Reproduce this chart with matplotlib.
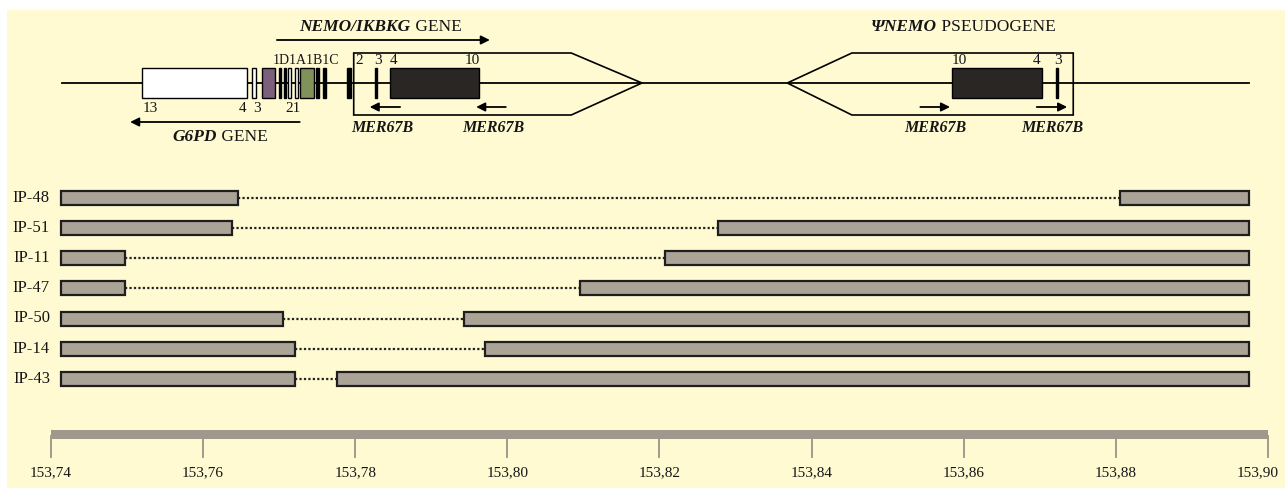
import matplotlib
matplotlib.use("Agg")
import matplotlib.pyplot as plt
from matplotlib.patches import Rectangle, Polygon

# genomic position, Mb (chrX)
scale_ticks = [153.74, 153.76, 153.78, 153.80, 153.82, 153.84, 153.86, 153.88, 153.90]
tick_labels = ["153,74", "153,76", "153,78", "153,80", "153,82", "153,84", "153,86", "153,88", "153,90"]

patients = ["IP-48", "IP-51", "IP-11", "IP-47", "IP-50", "IP-14", "IP-43"]
seg_start = 153.7413
seg_end = 153.8975
del_start = [153.7646, 153.7638, 153.7497, 153.7497, 153.7705, 153.7721, 153.7721]
del_end = [153.8806, 153.8277, 153.8207, 153.8096, 153.7943, 153.7971, 153.7776]

# gene map features: (start, end, face colour)
exons = [
    (153.7520, 153.7658, "white"),
    (153.7664, 153.7670, "white"),
    (153.7677, 153.7695, "#7b5f7d"),
    (153.7700, 153.7703, "black"),
    (153.7706, 153.7709, "black"),
    (153.7712, 153.7716, "white"),
    (153.7721, 153.7725, "white"),
    (153.7728, 153.7746, "#80925a"),
    (153.7749, 153.7753, "black"),
    (153.7758, 153.7762, "black"),
    (153.7789, 153.7794, "black"),
    (153.7826, 153.7829, "black"),
    (153.7846, 153.7963, "#2a2624"),
    (153.8585, 153.8703, "#2a2624"),
    (153.8721, 153.8724, "black"),
]
map_line = (153.7415, 153.8975)
nemo_box = (153.7798, 153.8084, 153.8177)      # left, shoulder, tip
pseudo_box = (153.8368, 153.8453, 153.8744)    # tip, shoulder, right
mer_arrows = [(153.7859, 153.7819), (153.7998, 153.7959),
              (153.8543, 153.8582), (153.8696, 153.8736)]
mer_labels = [153.7835, 153.7981, 153.8562, 153.8716]

bg = "#fffad2"
bar_col = "#aca397"
ink = "#151515"
serif = "Liberation Serif"

fig = plt.figure(figsize=(12.85, 4.88), dpi=100)
fig.patch.set_facecolor("white")
fig.patches.append(Rectangle((7 / 1285, 0), 1, 478 / 488, transform=fig.transFigure,
                             facecolor=bg, edgecolor="none", zorder=-10))
ax = fig.add_axes([0, 0, 1, 1])
ax.set_xlim(153.74 - 51 / 7606, 153.74 + 1234 / 7606)
ax.set_ylim(488, 0)
ax.axis("off")
ax.patch.set_alpha(0)

# ---- gene map ----
ly = 83
ax.plot(map_line, [ly, ly], color="black", lw=1.3, zorder=1)
l, s, t = nemo_box
ax.add_patch(Polygon([(l, 53), (s, 53), (t, ly), (s, 115), (l, 115)], closed=True,
                     facecolor="none", edgecolor="black", lw=1.2, zorder=2))
t, s, r = pseudo_box
ax.add_patch(Polygon([(t, ly), (s, 53), (r, 53), (r, 115), (s, 115)], closed=True,
                     facecolor="none", edgecolor="black", lw=1.2, zorder=2))
for a, b, c in exons:
    ax.add_patch(Rectangle((a, 68), b - a, 30, facecolor=c, edgecolor="black", lw=1.0, zorder=3))

arr = dict(arrowstyle="-|>", color="black", lw=1.3, mutation_scale=13, shrinkA=0, shrinkB=0)
for tail, tip in mer_arrows:
    ax.annotate("", xy=(tip, 107), xytext=(tail, 107), arrowprops=arr)
for x in mer_labels:
    ax.text(x, 128, "MER67B", fontsize=11.5, family=serif, style="italic", weight="bold",
            color=ink, ha="center", va="center")

ax.annotate("", xy=(153.7977, 40), xytext=(153.7697, 40), arrowprops=arr)
ax.annotate("", xy=(153.7504, 122), xytext=(153.7727, 122), arrowprops=arr)

# gene titles: italic name + upright word, joined at a split point
titles = [(153.7873, 27, "NEMO/IKBKG", " GENE"),
          (153.8565, 27, "ΨNEMO", " PSEUDOGENE"),
          (153.7618, 137, "G6PD", " GENE")]
for x, y, it, up in titles:
    ax.text(x, y, it, fontsize=12.5, family=serif, style="italic", weight="bold",
            ha="right", va="center", color=ink)
    ax.text(x, y, up, fontsize=12.5, family=serif, ha="left", va="center", color=ink)

num = dict(fontsize=11, family=serif, ha="center", va="center", color=ink)
ax.text(153.7735, 61, "1D1A1B1C", fontsize=10, family=serif, ha="center", va="center", color=ink)
ax.text(153.7805, 61, "2", **num)
ax.text(153.7830, 61, "3", **num)
ax.text(153.7850, 61, "4", **num)
ax.text(153.7954, 61, "10", **num)
ax.text(153.8594, 61, "10", **num)
ax.text(153.8696, 61, "4", **num)
ax.text(153.8724, 61, "3", **num)
ax.text(153.7530, 108, "13", **num)
ax.text(153.7652, 108, "4", **num)
ax.text(153.7671, 108, "3", **num)
ax.text(153.7718, 108, "21", **num)

# ---- deletion map ----
for i, name in enumerate(patients):
    y = 197.5 + i * 30.25
    ax.add_patch(Rectangle((seg_start, y - 7), del_start[i] - seg_start, 14,
                           facecolor=bar_col, edgecolor="#1e1e1e", lw=1.6, zorder=3))
    ax.add_patch(Rectangle((del_end[i], y - 7), seg_end - del_end[i], 14,
                           facecolor=bar_col, edgecolor="#1e1e1e", lw=1.6, zorder=3))
    ax.plot([del_start[i], del_end[i]], [y, y], color="#222222", lw=1.6,
            linestyle=(0, (1, 1)), zorder=2)
    ax.text(153.74 - 1 / 7606, y, name, fontsize=12, family=serif, ha="right",
            va="center", color=ink)

# ---- scale ----
ax.add_patch(Rectangle((scale_ticks[0], 430), scale_ticks[-1] - scale_ticks[0], 9,
                       facecolor="#a0988c", edgecolor="none", zorder=2))
for x, lab in zip(scale_ticks, tick_labels):
    ax.plot([x, x], [436, 457], color="#9a9288", lw=1.3, zorder=1)
    dx = -10 if lab == tick_labels[-1] else 0
    ax.annotate(lab, (x, 473), xytext=(dx, 0), textcoords="offset pixels",
                fontsize=11, family=serif, ha="center", va="center", color=ink)

fig.savefig("out.png", dpi=100, facecolor=fig.get_facecolor())
